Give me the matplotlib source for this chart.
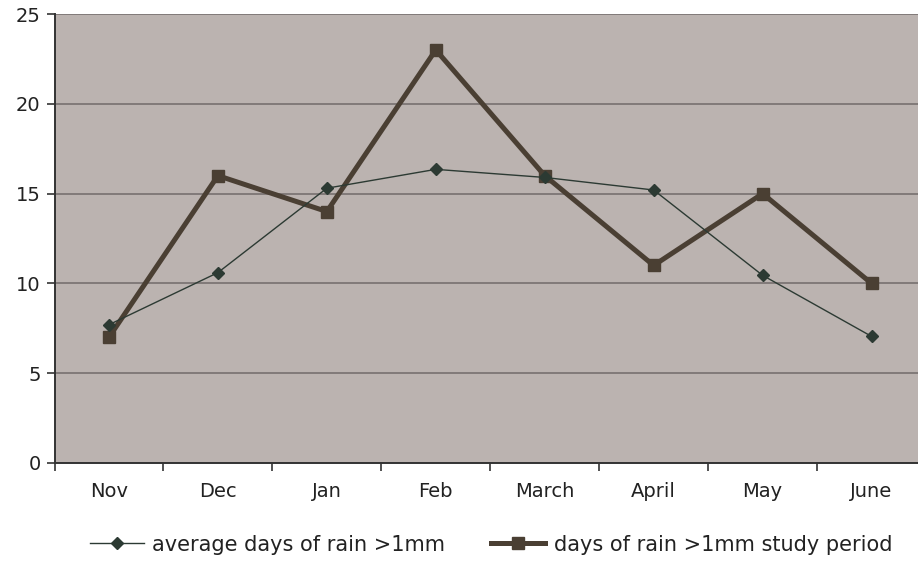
import numpy as np
import matplotlib
matplotlib.use("Agg")
import matplotlib.pyplot as plt
from matplotlib.ticker import FixedLocator

months = ["Nov", "Dec", "Jan", "Feb", "March", "April", "May", "June"]
avg_days = [7.7, 10.6, 15.3, 16.35, 15.9, 15.2, 10.45, 7.05]
study_days = [7, 16, 14, 23, 16, 11, 15, 10]

plt.rcParams["font.family"] = ["DejaVu Sans"]

fig = plt.figure(figsize=(9.18, 5.62), dpi=100)
ax = fig.add_axes([54.5 / 918, 99 / 562, (926 - 54.5) / 918, 449 / 562])
ax.set_facecolor("#bbb3b0")

x = np.arange(len(months))
ax.plot(x, avg_days, color="#2c3a33", lw=1.0, marker="D", ms=6.5,
        label="average days of rain >1mm", zorder=4)
ax.plot(x, study_days, color="#4a3f33", lw=3.6, marker="s", ms=8,
        label="days of rain >1mm study period", zorder=3)

ax.set_xlim(-0.5, len(months) - 0.5)
ax.set_ylim(0, 25)
ax.set_yticks([0, 5, 10, 15, 20, 25])
ax.yaxis.grid(True, color="#777070", lw=1.2)
ax.set_axisbelow(True)

ax.set_xticks(x)
ax.set_xticklabels(months, fontsize=14, color="#222")
ax.xaxis.set_minor_locator(FixedLocator(np.arange(-0.5, len(months), 1)))
ax.tick_params(axis="x", which="major", length=0, pad=14)
ax.tick_params(axis="x", which="minor", length=6, width=1.2, color="#333")
ax.tick_params(axis="y", length=6, width=1.2, color="#333", labelsize=14,
               pad=4, labelcolor="#222")

for s in ["top", "right"]:
    ax.spines[s].set_visible(False)
for s in ["left", "bottom"]:
    ax.spines[s].set_linewidth(1.4)
    ax.spines[s].set_color("#333")

fig.legend(loc="center", bbox_to_anchor=(0.535, 0.031), ncol=2, frameon=False,
           fontsize=15, handlelength=2.6, handletextpad=0.4, columnspacing=2.2,
           labelcolor="#222")

fig.savefig("out.png", dpi=100)
